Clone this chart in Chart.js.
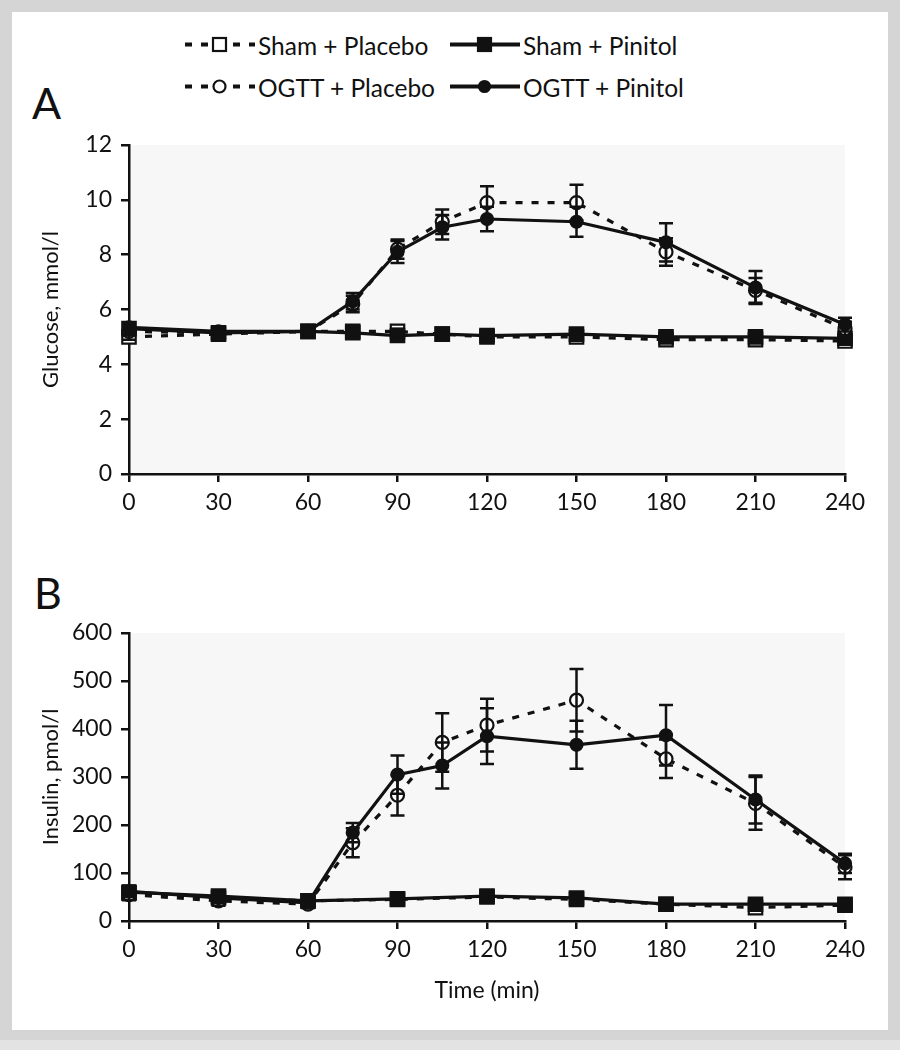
<!DOCTYPE html>
<html>
<head>
<meta charset="utf-8">
<script src="https://cdn.jsdelivr.net/npm/chart.js@4.4.1/dist/chart.umd.min.js"></script>
<style>
    html, body { margin: 0; padding: 0; background: #d5d5d5; }
    #page { position: relative; width: 900px; height: 1050px; background: #d5d5d5; overflow: hidden; font-family: Lato, "Liberation Sans", sans-serif; color: #111; }
    #panel { position: absolute; left: 12px; top: 12px; width: 876px; height: 1018px; background: #fff; }
    #strip { position: absolute; left: 0; top: 1040px; width: 900px; height: 10px; background: #e3e3e3; }
    canvas { position: absolute; left: 0; }
    #chartA { top: 120px; }
    #chartB { top: 600px; }
    .panelLabel { position: absolute; font-size: 43px; line-height: 43px; }
    .legendItem { position: absolute; height: 30px; display: flex; align-items: center; font-size: 24.5px; white-space: nowrap; }
    .legendItem svg { margin-right: 3px; }
</style>
</head>
<body>
<div id="page">
    <div id="panel"></div>
    <div id="strip"></div>
    <div class="panelLabel" style="left:32px; top:81px;">A</div>
    <div class="panelLabel" style="left:34px; top:571px;">B</div>
    <div id="legend"></div>
    <canvas id="chartA" width="900" height="420"></canvas>
    <canvas id="chartB" width="900" height="430"></canvas>
</div>
<script>
// Series names
const seriesNames = ['Sham + Placebo', 'Sham + Pinitol', 'OGTT + Placebo', 'OGTT + Pinitol'];

// Time points (min)
const timesAll = [0, 30, 60, 75, 90, 105, 120, 150, 180, 210, 240];
const timesShamInsulin = [0, 30, 60, 90, 120, 150, 180, 210, 240];
const xTicks = [0, 30, 60, 90, 120, 150, 180, 210, 240];

// Panel A - glucose (mmol/l)
const shamPlaceboGlucose = [5.0, 5.1, 5.2, 5.2, 5.2, 5.1, 5.0, 5.0, 4.9, 4.9, 4.85];
const shamPinitolGlucose = [5.3, 5.15, 5.2, 5.15, 5.05, 5.1, 5.05, 5.1, 5.0, 5.0, 4.95];
const ogttPlaceboGlucose = [5.2, 5.15, 5.2, 6.2, 8.2, 9.2, 9.9, 9.9, 8.1, 6.7, 5.3];
const ogttPinitolGlucose = [5.35, 5.2, 5.2, 6.3, 8.1, 9.0, 9.3, 9.2, 8.45, 6.8, 5.45];
const shamPlaceboGlucoseErr = [0.1, 0.1, 0.1, 0.1, 0.1, 0.1, 0.1, 0.1, 0.1, 0.1, 0.1];
const shamPinitolGlucoseErr = [0.1, 0.1, 0.1, 0.1, 0.1, 0.1, 0.1, 0.1, 0.1, 0.1, 0.1];
const ogttPlaceboGlucoseErr = [0.15, 0.15, 0.15, 0.3, 0.35, 0.45, 0.6, 0.65, 0.5, 0.45, 0.25];
const ogttPinitolGlucoseErr = [0.15, 0.15, 0.15, 0.3, 0.4, 0.45, 0.45, 0.55, 0.7, 0.6, 0.25];

// Panel B - insulin (pmol/l)
const shamPlaceboInsulin = [58, 48, 42, 45, 50, 45, 35, 28, 33];
const shamPinitolInsulin = [60, 52, 42, 46, 52, 48, 35, 35, 35];
const ogttPlaceboInsulin = [55, 42, 35, 163, 262, 372, 408, 460, 338, 245, 112];
const ogttPinitolInsulin = [62, 48, 38, 184, 305, 324, 385, 367, 387, 253, 120];
const shamPlaceboInsulinErr = [8, 8, 6, 6, 6, 6, 6, 6, 6];
const shamPinitolInsulinErr = [8, 8, 6, 6, 6, 6, 6, 6, 6];
const ogttPlaceboInsulinErr = [12, 10, 8, 30, 42, 61, 55, 65, 40, 55, 25];
const ogttPinitolInsulinErr = [12, 10, 8, 20, 40, 48, 58, 50, 63, 50, 20];

const fontFamily = 'Lato, "Liberation Sans", sans-serif';
const ink = '#111';

// line / marker style per series
const seriesStyles = [
    { dash: [7, 9], shape: 'rect', radius: 9.5, fill: '#fff' },
    { dash: [], shape: 'rect', radius: 9.5, fill: ink },
    { dash: [7, 9], shape: 'circle', radius: 6.5, fill: '#fff' },
    { dash: [], shape: 'circle', radius: 6, fill: ink }
];

function points(xs, ys) {
    return xs.map((x, i) => ({ x: x, y: ys[i] }));
}

function makeDataset(idx, xs, ys, errs) {
    const st = seriesStyles[idx];
    return {
        label: seriesNames[idx],
        data: points(xs, ys),
        errors: errs,
        borderColor: ink,
        borderWidth: 3.2,
        borderDash: st.dash,
        pointStyle: st.shape,
        pointRadius: st.radius,
        pointBackgroundColor: st.fill,
        pointBorderColor: ink,
        pointBorderWidth: 2.2,
        tension: 0,
        clip: false
    };
}

// light fill inside the plot area
const plotBackground = {
    id: 'plotBackground',
    beforeDraw(chart) {
        const a = chart.chartArea;
        const ctx = chart.ctx;
        ctx.save();
        ctx.fillStyle = '#f7f7f7';
        ctx.fillRect(a.left, a.top, a.right - a.left, a.bottom - a.top);
        ctx.restore();
    }
};

// SEM error bars with caps
const errorBars = {
    id: 'errorBars',
    afterDatasetsDraw(chart) {
        const ctx = chart.ctx;
        const yScale = chart.scales.y;
        chart.data.datasets.forEach((ds, i) => {
            if (!ds.errors) return;
            const meta = chart.getDatasetMeta(i);
            ctx.save();
            ctx.strokeStyle = ink;
            ctx.lineWidth = 2.5;
            meta.data.forEach((pt, j) => {
                const e = ds.errors[j];
                const v = ds.data[j].y;
                const top = yScale.getPixelForValue(v + e);
                const bot = yScale.getPixelForValue(v - e);
                ctx.beginPath();
                ctx.moveTo(pt.x, top);
                ctx.lineTo(pt.x, bot);
                ctx.moveTo(pt.x - 7, top);
                ctx.lineTo(pt.x + 7, top);
                ctx.moveTo(pt.x - 7, bot);
                ctx.lineTo(pt.x + 7, bot);
                ctx.stroke();
            });
            ctx.restore();
        });
    }
};

function makeOptions(cfg) {
    const tickFont = { family: fontFamily, size: 23 };
    return {
        responsive: false,
        animation: false,
        layout: { padding: { left: 0, right: 55, top: cfg.padTop, bottom: 0 } },
        plugins: { legend: { display: false }, tooltip: { enabled: false } },
        scales: {
            x: {
                type: 'linear',
                min: 0,
                max: 240,
                afterBuildTicks: s => { s.ticks = xTicks.map(v => ({ value: v })); },
                ticks: { color: ink, font: tickFont, padding: 7, maxRotation: 0 },
                grid: { drawOnChartArea: false, drawTicks: true, tickLength: 8, color: ink, lineWidth: 2.5 },
                border: { color: ink, width: 2.5 },
                title: {
                    display: !!cfg.xTitle,
                    text: cfg.xTitle || '',
                    color: ink,
                    font: { family: fontFamily, size: 23 },
                    padding: { top: 0, bottom: 26 }
                },
                afterFit: s => { s.height = cfg.xHeight; }
            },
            y: {
                type: 'linear',
                min: cfg.yMin,
                max: cfg.yMax,
                afterBuildTicks: s => { s.ticks = cfg.yTicks.map(v => ({ value: v })); },
                ticks: { color: ink, font: tickFont, padding: 9 },
                grid: { drawOnChartArea: false, drawTicks: true, tickLength: 8, color: ink, lineWidth: 2.5 },
                border: { color: ink, width: 2.5 },
                title: {
                    display: true,
                    text: cfg.yTitle,
                    color: ink,
                    font: { family: fontFamily, size: 22 },
                    padding: { top: 38, bottom: 0 }
                },
                afterFit: s => { s.width = 129; }
            }
        }
    };
}

const glucoseTicks = [0, 2, 4, 6, 8, 10, 12];
const insulinTicks = [0, 100, 200, 300, 400, 500, 600];

new Chart(document.getElementById('chartA').getContext('2d'), {
    type: 'line',
    data: {
        datasets: [
            makeDataset(3, timesAll, ogttPinitolGlucose, ogttPinitolGlucoseErr),
            makeDataset(2, timesAll, ogttPlaceboGlucose, ogttPlaceboGlucoseErr),
            makeDataset(1, timesAll, shamPinitolGlucose, shamPinitolGlucoseErr),
            makeDataset(0, timesAll, shamPlaceboGlucose, shamPlaceboGlucoseErr)
        ]
    },
    options: makeOptions({ padTop: 25, xHeight: 66, yMin: 0, yMax: 12, yTicks: glucoseTicks, yTitle: 'Glucose, mmol/l' }),
    plugins: [plotBackground, errorBars]
});

new Chart(document.getElementById('chartB').getContext('2d'), {
    type: 'line',
    data: {
        datasets: [
            makeDataset(3, timesAll, ogttPinitolInsulin, ogttPinitolInsulinErr),
            makeDataset(2, timesAll, ogttPlaceboInsulin, ogttPlaceboInsulinErr),
            makeDataset(1, timesShamInsulin, shamPinitolInsulin, shamPinitolInsulinErr),
            makeDataset(0, timesShamInsulin, shamPlaceboInsulin, shamPlaceboInsulinErr)
        ]
    },
    options: makeOptions({ padTop: 33, xHeight: 109, yMin: 0, yMax: 600, yTicks: insulinTicks, yTitle: 'Insulin, pmol/l', xTitle: 'Time (min)' }),
    plugins: [plotBackground, errorBars]
});

// Legend (two rows, two columns)
function legendSymbol(st) {
    const dash = st.dash.length ? ' stroke-dasharray="7 9"' : '';
    const mark = st.shape === 'rect'
        ? '<rect x="28" y="8" width="13" height="13" fill="' + st.fill + '" stroke="' + ink + '" stroke-width="2.2"/>'
        : '<circle cx="34.5" cy="14.5" r="' + (st.radius - 0.5) + '" fill="' + st.fill + '" stroke="' + ink + '" stroke-width="2.2"/>';
    return '<svg width="70" height="30"><line x1="0" y1="14.5" x2="70" y2="14.5" stroke="' + ink + '" stroke-width="4"' + dash + '/>' + mark + '</svg>';
}

const legendPos = [
    { left: 185, top: 30 },
    { left: 450, top: 30 },
    { left: 185, top: 72 },
    { left: 450, top: 72 }
];
const legend = document.getElementById('legend');
seriesNames.forEach((name, i) => {
    const el = document.createElement('div');
    el.className = 'legendItem';
    el.style.left = legendPos[i].left + 'px';
    el.style.top = legendPos[i].top + 'px';
    el.innerHTML = legendSymbol(seriesStyles[i]) + '<span>' + name + '</span>';
    legend.appendChild(el);
});
</script>
</body>
</html>
